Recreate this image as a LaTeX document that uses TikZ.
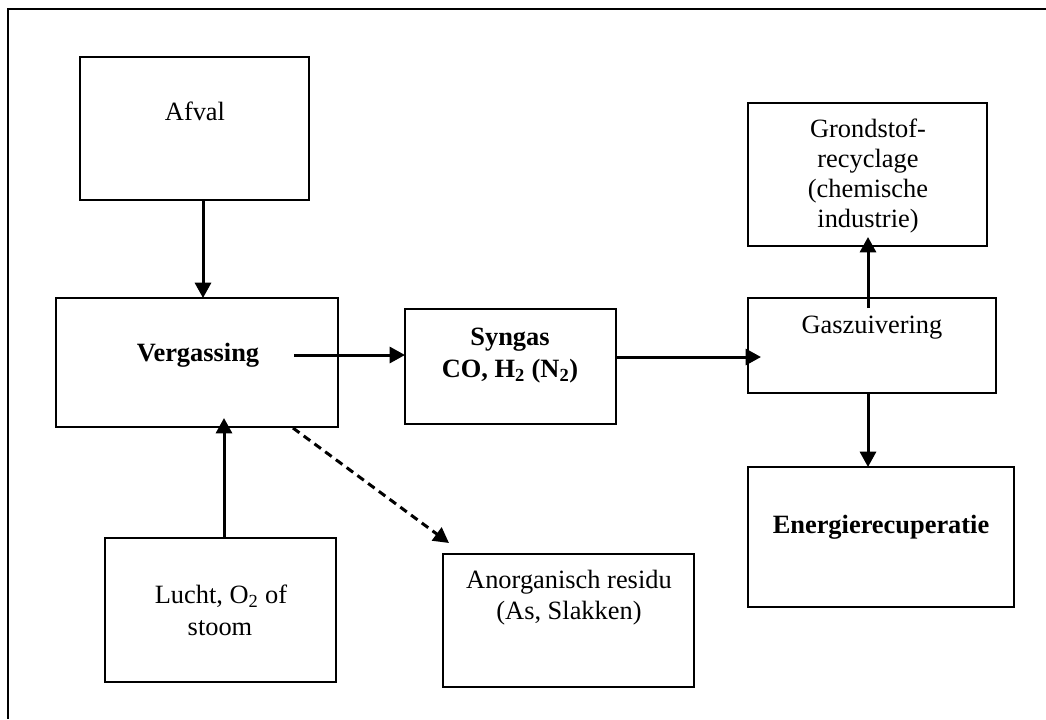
\documentclass[tikz,border=0pt]{standalone}
\usepackage{fontspec}
\setmainfont{Liberation Serif}
\usetikzlibrary{arrows.meta,fit}

\begin{document}
\begin{tikzpicture}[x=0.75pt,y=-0.75pt,
  box/.style={draw,line width=1.5pt*0.75,inner sep=0pt,outer sep=0pt,rectangle},
  lbl/.style={font=\fontsize{19.8pt}{22.5pt}\selectfont,inner sep=0pt,align=center,anchor=base},
  arr/.style={line width=2.25pt,-{Triangle[length=11.5pt,width=12pt]}},
  darr/.style={arr,dash pattern=on 6pt off 4pt}]
  % canvas
  \useasboundingbox (0,0) rectangle (1046,719);
  \draw[line width=1.5pt] (1046,9) -- (8,9) -- (8,719);

  % process boxes
  \node[box,fit={(80,57) (309,200)}]   (afval) {};
  \node[box,fit={(56,298) (338,427)}]  (verg)  {};
  \node[box,fit={(405,309) (616,424)}] (syn)   {};
  \node[box,fit={(748,298) (996,393)}] (gasz)  {};
  \node[box,fit={(748,103) (987,246)}] (grond) {};
  \node[box,fit={(748,467) (1014,607)}] (energ) {};
  \node[box,fit={(105,538) (336,682)}] (lucht) {};
  \node[box,fit={(443,554) (694,687)}] (anorg) {};

  % labels
  \node[lbl] (tafval) at (195,120) {Afval};
  \node[lbl,font=\fontsize{19.8pt}{22.5pt}\selectfont\bfseries] (tverg) at (198,361) {Vergassing};
  \node[lbl,font=\fontsize{19.8pt}{22.5pt}\selectfont\bfseries] (tsyn1) at (510,345) {Syngas};
  \node[lbl,font=\fontsize{19.8pt}{22.5pt}\selectfont\bfseries] (tsyn2) at (510,377) {CO, H\textsubscript{2} (N\textsubscript{2})};
  \node[lbl] (tgasz) at (872,333) {Gaszuivering};
  \node[lbl] (tgr1) at (868,137) {Grondstof-};
  \node[lbl] (tgr2) at (868,167) {recyclage};
  \node[lbl] (tgr3) at (868,197) {(chemische};
  \node[lbl] (tgr4) at (868,227) {industrie)};
  \node[lbl,font=\fontsize{19.8pt}{22.5pt}\selectfont\bfseries] (tenerg) at (881,533) {Energierecuperatie};
  \node[lbl] (tlu1) at (221,603) {Lucht, O\textsubscript{2} of};
  \node[lbl] (tlu2) at (220,635) {stoom};
  \node[lbl] (tan1) at (569,588) {Anorganisch residu};
  \node[lbl] (tan2) at (569,619) {(As, Slakken)};

  % connector ends
  \coordinate (xa) at (203,0);
  \coordinate (xl) at (224,0);
  \coordinate (xg) at (868,0);
  \coordinate (vout) at (294,355);
  \coordinate (vin) at (224,418);
  \coordinate (gin) at (761,357);
  \coordinate (gup) at (868,308);
  \coordinate (grin) at (868,237);
  \coordinate (vres) at (293,428);
  \coordinate (resin) at (449,543);

  % connectors
  \draw[arr] (afval.south -| xa) -- (verg.north -| xa);
  \draw[arr] (vout) -- (syn.west |- vout);
  \draw[arr] (syn.east |- gin) -- (gin);
  \draw[arr] (gup) -- (grin);
  \draw[arr] (gasz.south -| xg) -- (energ.north -| xg);
  \draw[arr] (lucht.north -| xl) -- (vin);
  \draw[darr] (vres) -- (resin);
\end{tikzpicture}
\end{document}
